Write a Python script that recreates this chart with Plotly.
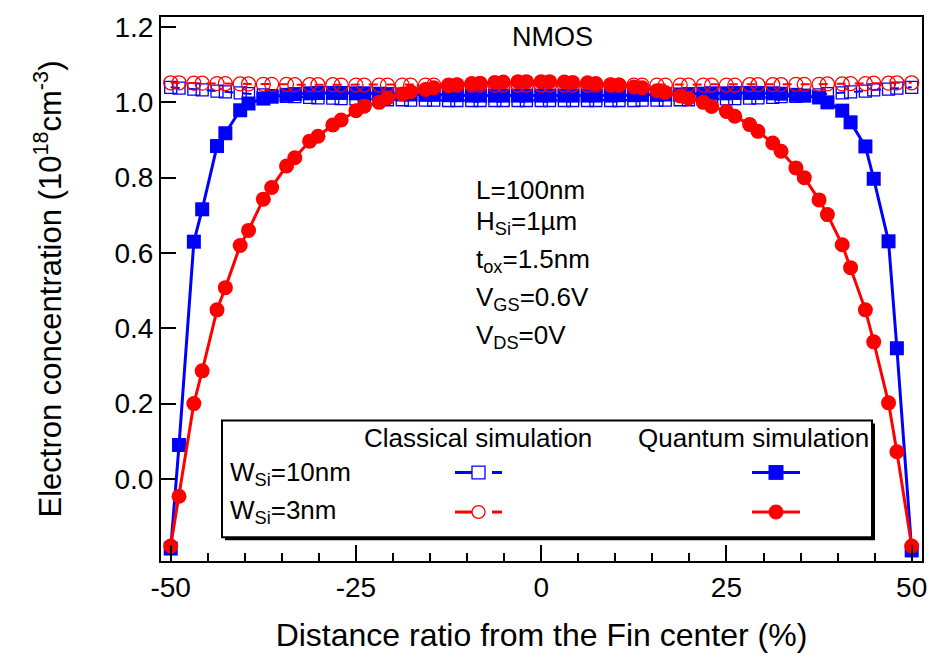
import plotly.graph_objects as go

# ---------------- data ----------------
x_pos = [-50.0, -48.875, -46.875, -45.75, -43.75, -42.625, -40.625, -39.5,
         -37.5, -36.375, -34.375, -33.25, -31.25, -30.125, -28.125, -27.0,
         -25.0, -23.875, -21.875, -20.75, -18.75, -17.625, -15.625, -14.5,
         -12.5, -11.375, -9.375, -8.25, -6.25, -5.125, -3.125, -2.0,
         0.0, 1.125, 3.125, 4.25, 6.25, 7.375, 9.375, 10.5,
         12.5, 13.625, 15.625, 16.75, 18.75, 19.875, 21.875, 23.0,
         25.0, 26.125, 28.125, 29.25, 31.25, 32.375, 34.375, 35.5,
         37.5, 38.625, 40.625, 41.75, 43.75, 44.875, 46.875, 48.0, 50.0]

# Quantum simulation, W_Si = 10 nm
quantum_10nm = [-0.185, 0.090, 0.630, 0.716, 0.884, 0.918, 0.979, 0.997,
                1.010, 1.015, 1.020, 1.022, 1.024, 1.025, 1.025, 1.025,
                1.024, 1.024, 1.023, 1.022, 1.021, 1.021, 1.020, 1.020,
                1.019, 1.019, 1.018, 1.018, 1.018, 1.018, 1.018, 1.018,
                1.018, 1.018, 1.018, 1.018, 1.018, 1.018, 1.018, 1.019,
                1.019, 1.020, 1.020, 1.021, 1.021, 1.022, 1.023, 1.024,
                1.024, 1.025, 1.025, 1.025, 1.024, 1.023, 1.020, 1.018,
                1.013, 1.000, 0.978, 0.947, 0.883, 0.797, 0.631, 0.347, -0.190]

# Classical simulation, W_Si = 10 nm
classical_10nm = [1.040, 1.038, 1.035, 1.033, 1.030, 1.028, 1.025, 1.023,
                  1.020, 1.018, 1.016, 1.015, 1.013, 1.012, 1.011, 1.010,
                  1.009, 1.008, 1.008, 1.007, 1.007, 1.006, 1.006, 1.006,
                  1.005, 1.005, 1.005, 1.005, 1.005, 1.005, 1.005, 1.005,
                  1.005, 1.005, 1.005, 1.005, 1.005, 1.005, 1.005, 1.005,
                  1.005, 1.006, 1.006, 1.006, 1.007, 1.007, 1.008, 1.008,
                  1.009, 1.010, 1.011, 1.012, 1.013, 1.015, 1.016, 1.018,
                  1.020, 1.023, 1.025, 1.028, 1.030, 1.033, 1.035, 1.038, 1.040]

# Quantum simulation, W_Si = 3 nm
quantum_3nm = [-0.178, -0.046, 0.200, 0.287, 0.449, 0.508, 0.620, 0.660,
               0.743, 0.774, 0.831, 0.853, 0.897, 0.910, 0.940, 0.953,
               0.978, 0.990, 1.000, 1.012, 1.022, 1.028, 1.034, 1.039,
               1.044, 1.047, 1.050, 1.051, 1.053, 1.054, 1.055, 1.055,
               1.055, 1.055, 1.054, 1.053, 1.052, 1.050, 1.047, 1.046,
               1.041, 1.039, 1.031, 1.026, 1.017, 1.011, 1.000, 0.989,
               0.976, 0.963, 0.941, 0.923, 0.892, 0.870, 0.826, 0.800,
               0.741, 0.702, 0.622, 0.561, 0.449, 0.364, 0.202, 0.072, -0.178]

# Classical simulation, W_Si = 3 nm
classical_3nm = [1.052, 1.052, 1.051, 1.051, 1.050, 1.050, 1.049, 1.049,
                 1.048, 1.048, 1.048, 1.047, 1.047, 1.047, 1.047, 1.046,
                 1.046, 1.046, 1.046, 1.046, 1.046, 1.046, 1.046, 1.046,
                 1.046, 1.046, 1.046, 1.046, 1.046, 1.046, 1.046, 1.046,
                 1.046, 1.046, 1.046, 1.046, 1.046, 1.046, 1.046, 1.046,
                 1.046, 1.046, 1.046, 1.046, 1.046, 1.046, 1.046, 1.046,
                 1.046, 1.046, 1.047, 1.047, 1.047, 1.047, 1.048, 1.048,
                 1.048, 1.049, 1.049, 1.050, 1.050, 1.051, 1.051, 1.052, 1.052]

x_tick_vals = [-50, -25, 0, 25, 50]
x_tick_text = ["-50", "-25", "0", "25", "50"]
y_tick_vals = [0.0, 0.2, 0.4, 0.6, 0.8, 1.0, 1.2]
y_tick_text = ["0.0", "0.2", "0.4", "0.6", "0.8", "1.0", "1.2"]

param_lines = ["L=100nm", "H<sub>Si</sub>=1µm", "t<sub>ox</sub>=1.5nm",
               "V<sub>GS</sub>=0.6V", "V<sub>DS</sub>=0V"]
row_labels = ["W<sub>Si</sub>=10nm", "W<sub>Si</sub>=3nm"]
col_labels = ["Classical simulation", "Quantum simulation"]

BLUE = "#0000FF"
RED = "#FF0000"
FONT = "Liberation Sans, Arial, sans-serif"

# ---------------- figure geometry (pixels) ----------------
W, H = 942, 659
PL, PR, PT, PB = 161, 922, 12, 562


def fx(p):
    return (p - PL) / (PR - PL)


def fy(p):
    return (PB - p) / (PB - PT)


fig = go.Figure()

fig.add_trace(go.Scatter(x=x_pos, y=quantum_10nm, mode="lines+markers",
                         line=dict(color=BLUE, width=3),
                         marker=dict(symbol="square", size=14, color=BLUE)))
fig.add_trace(go.Scatter(x=x_pos, y=classical_10nm, mode="lines+markers",
                         line=dict(color=BLUE, width=2, dash="dash"),
                         marker=dict(symbol="square-open", size=12, color=BLUE,
                                     line=dict(width=1.3))))
fig.add_trace(go.Scatter(x=x_pos, y=classical_3nm, mode="lines+markers",
                         line=dict(color=RED, width=2, dash="dash"),
                         marker=dict(symbol="circle-open", size=14, color=RED,
                                     line=dict(width=1.3))))
fig.add_trace(go.Scatter(x=x_pos, y=quantum_3nm, mode="lines+markers",
                         line=dict(color=RED, width=3),
                         marker=dict(symbol="circle", size=15, color=RED)))

annotations = []
shapes = []

# NMOS label
annotations.append(dict(text="NMOS", x=fx(552), y=fy(32), xref="paper", yref="paper",
                        xanchor="center", yanchor="middle", showarrow=False,
                        font=dict(size=27, family=FONT, color="black")))

# parameter block
param_y = [187, 220, 258, 297, 335]
for txt, yy in zip(param_lines, param_y):
    annotations.append(dict(text=txt, x=fx(474), y=fy(yy), xref="paper", yref="paper",
                            xanchor="left", yanchor="middle", showarrow=False,
                            font=dict(size=26, family=FONT, color="black")))

# legend box with drop shadow
shapes.append(dict(type="rect", xref="paper", yref="paper",
                   x0=fx(225), x1=fx(875), y0=fy(423), y1=fy(541),
                   fillcolor="black", line=dict(width=0), layer="above"))
shapes.append(dict(type="rect", xref="paper", yref="paper",
                   x0=fx(222), x1=fx(872), y0=fy(420), y1=fy(538),
                   fillcolor="white", line=dict(color="black", width=2), layer="above"))

# legend headers and row labels
for txt, xx in zip(col_labels, [362, 636]):
    annotations.append(dict(text=txt, x=fx(xx), y=fy(438), xref="paper", yref="paper",
                            xanchor="left", yanchor="middle", showarrow=False,
                            font=dict(size=26, family=FONT, color="black")))
for txt, yy in zip(row_labels, [474, 512]):
    annotations.append(dict(text=txt, x=fx(228), y=fy(yy), xref="paper", yref="paper",
                            xanchor="left", yanchor="middle", showarrow=False,
                            font=dict(size=26, family=FONT, color="black")))

# legend samples
rows = [(472.5, BLUE, "square"), (512.5, RED, "circle")]
for yy, col, sym in rows:
    # classical sample: solid stub, open marker, short dash
    shapes.append(dict(type="line", xref="paper", yref="paper",
                       x0=fx(455), x1=fx(472), y0=fy(yy), y1=fy(yy),
                       line=dict(color=col, width=3), layer="above"))
    shapes.append(dict(type="line", xref="paper", yref="paper",
                       x0=fx(492), x1=fx(502), y0=fy(yy), y1=fy(yy),
                       line=dict(color=col, width=3), layer="above"))
    shapes.append(dict(type="rect" if sym == "square" else "circle",
                       xref="paper", yref="paper",
                       x0=fx(472), x1=fx(485), y0=fy(yy + 6.5), y1=fy(yy - 6.5),
                       fillcolor="white", line=dict(color=col, width=1.3), layer="above"))
    # quantum sample: line with filled marker
    shapes.append(dict(type="line", xref="paper", yref="paper",
                       x0=fx(752), x1=fx(800), y0=fy(yy), y1=fy(yy),
                       line=dict(color=col, width=3), layer="above"))
    shapes.append(dict(type="rect" if sym == "square" else "circle",
                       xref="paper", yref="paper",
                       x0=fx(768.5), x1=fx(783.5), y0=fy(yy + 7.5), y1=fy(yy - 7.5),
                       fillcolor=col, line=dict(color=col, width=0), layer="above"))

axis_common = dict(showline=True, linewidth=2, linecolor="black", mirror=True,
                   showgrid=False, zeroline=False, ticks="inside", tickwidth=2,
                   tickcolor="black")

fig.update_layout(
    width=W, height=H,
    margin=dict(l=PL, r=W - PR, t=PT, b=H - PB, pad=0),
    plot_bgcolor="white", paper_bgcolor="white",
    showlegend=False,
    font=dict(family=FONT, color="black"),
    annotations=annotations,
    shapes=shapes,
    xaxis=dict(range=[-51.31, 51.39], tickmode="array", tickvals=x_tick_vals,
               ticktext=x_tick_text, ticklen=16,
               tickfont=dict(size=28, family=FONT),
               minor=dict(tickmode="linear", tick0=0, dtick=5, ticks="inside",
                          ticklen=8, tickwidth=2, tickcolor="black"),
               title=dict(text="Distance ratio from the Fin center (%)",
                          font=dict(size=32, family=FONT), standoff=22),
               **axis_common),
    yaxis=dict(range=[-0.218, 1.2267], tickmode="array", tickvals=y_tick_vals,
               ticktext=y_tick_text, ticklen=15,
               tickfont=dict(size=28, family=FONT),
               title=dict(text="Electron concentration (10<sup>18</sup>cm<sup>-3</sup>)",
                          font=dict(size=31, family=FONT), standoff=44),
               **axis_common),
)

fig.write_html("out.html")
